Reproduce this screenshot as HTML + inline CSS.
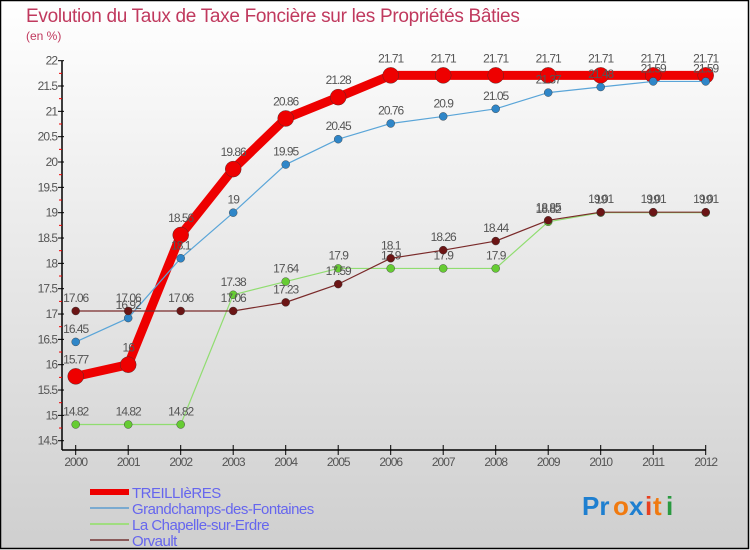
<!DOCTYPE html>
<html><head><meta charset="utf-8"><style>
html,body{margin:0;padding:0}
body{width:750px;height:550px;overflow:hidden;font-family:"Liberation Sans",sans-serif}
svg{display:block}
</style></head><body>
<svg id="chart" width="750" height="550" xmlns="http://www.w3.org/2000/svg">
<defs><linearGradient id="bg" x1="0" y1="0" x2="0" y2="1"><stop offset="0" stop-color="#ffffff"/><stop offset="1" stop-color="#cfcfcf"/></linearGradient></defs>
<rect x="0.5" y="0.5" width="748" height="548" fill="url(#bg)" stroke="#000" stroke-width="1.5"/>
<text x="26" y="22" font-size="19" fill="#c0395e" letter-spacing="-0.3">Evolution du Taux de Taxe Foncière sur les Propriétés Bâties</text>
<text x="26" y="40" font-size="12" fill="#c0395e">(en %)</text>
<g id="axes"></g>
<g id="series"></g>
<g id="legend"></g>
<g font-size="26" font-weight="bold">
<text x="582" y="515" fill="#1e7fd0">Pr</text><text x="613" y="515" fill="#f07a10">o</text><text x="629" y="515" fill="#1e7fd0">x</text><text x="645" y="515" fill="#e84020">i</text><text x="653" y="515" fill="#f07a10">t</text><text x="666" y="515" fill="#2a9a40">i</text>
</g>
</svg>
<script>
const years=[2000,2001,2002,2003,2004,2005,2006,2007,2008,2009,2010,2011,2012];
const treillieres=[15.77,16,18.56,19.86,20.86,21.28,21.71,21.71,21.71,21.71,21.71,21.71,21.71];
const grandchamps=[16.45,16.92,18.1,19,19.95,20.45,20.76,20.9,21.05,21.37,21.48,21.59,21.59];
const chapelle=[14.82,14.82,14.82,17.38,17.64,17.9,17.9,17.9,17.9,18.82,19,19,19];
const orvault=[17.06,17.06,17.06,17.06,17.23,17.59,18.1,18.26,18.44,18.85,19.01,19.01,19.01];
const yTicks=[14.5,15,15.5,16,16.5,17,17.5,18,18.5,19,19.5,20,20.5,21,21.5,22];
const NS="http://www.w3.org/2000/svg";
const X0=75.7,XS=52.5,Y0=440.7,YMIN=14.5,YK=50.67;
const xs=i=>X0+i*XS, ys=v=>Y0-(v-YMIN)*YK;
function el(t,a,p){const e=document.createElementNS(NS,t);for(const k in a)e.setAttribute(k,a[k]);p.appendChild(e);return e;}
const axes=document.getElementById('axes');
const yAxis=el('line',{x1:62,y1:ys(22),x2:62,y2:450,stroke:'#000','stroke-width':1.5},axes);


const xAxis=el('line',{x1:62,y1:450,x2:xs(12),y2:450,stroke:'#000','stroke-width':1.5},axes);


yTicks.forEach(v=>{
  const t=el('line',{x1:58,y1:ys(v),x2:64,y2:ys(v),stroke:'#000'},axes);
  
  
  if(v<22){const m=el('line',{x1:59,y1:ys(v+0.25),x2:62,y2:ys(v+0.25),stroke:'#e00'},axes);
  
  }
  const l=el('text',{x:57,y:ys(v)+4,'text-anchor':'end','font-size':12,fill:'#555','letter-spacing':'-1'},axes);
  l.textContent=String(v);
  
  
});
years.forEach((y,i)=>{
  const t=el('line',{x1:xs(i),y1:445,x2:xs(i),y2:455,stroke:'#000'},axes);
  
  
  const l=el('text',{x:xs(i),y:466,'text-anchor':'middle','font-size':12,fill:'#555','letter-spacing':'-1'},axes);
  l.textContent=y;
  
  
});
const sg=document.getElementById('series');
const defs=[
 {d:treillieres,c:'#ee0000',f:'#ee0000',w:9,r:8,n:'treillieres'},
 {d:grandchamps,c:'#5aa5d8',f:'#2f86c8',w:1.2,r:4,n:'grandchamps-des-fontaines'},
 {d:chapelle,c:'#90dd70',f:'#66cc33',w:1.2,r:4,n:'la-chapelle-sur-erdre'},
 {d:orvault,c:'#7a2a2a',f:'#6b1515',w:1.2,r:4,n:'orvault'}];
defs.forEach(s=>{
  const g=el('g',{},sg);
  
  
  const p=el('polyline',{points:s.d.map((v,i)=>xs(i)+','+ys(v)).join(' '),fill:'none',stroke:s.c,'stroke-width':s.w,'stroke-linejoin':'round'},g);
  
  
  s.d.forEach((v,i)=>{
    const c=el('circle',{cx:xs(i),cy:ys(v),r:s.r,fill:s.f,stroke:'#333','stroke-width':0.4},g);
    
    
    const t=el('text',{x:xs(i),y:ys(v)-s.r-5,'text-anchor':'middle','font-size':12,fill:'#555','letter-spacing':'-1'},g);
    t.textContent=String(v);
    
    
  });
});
const lg=document.getElementById('legend');
const items=[['TREILLIèRES','#ee0000',6],['Grandchamps-des-Fontaines','#7aaad0',2],['La Chapelle-sur-Erdre','#a0dd80',2],['Orvault','#8a5a5a',2]];
items.forEach((it,i)=>{
  const y=492+i*16;
  const g=el('g',{},lg);
  
  
  el('line',{x1:90,y1:y,x2:129,y2:y,stroke:it[1],'stroke-width':it[2]},g);
  const t=el('text',{x:132,y:y+6,'font-size':15,fill:'#6666ee','letter-spacing':'-0.5'},g);
  t.textContent=it[0];
});
</script>
</body></html>
